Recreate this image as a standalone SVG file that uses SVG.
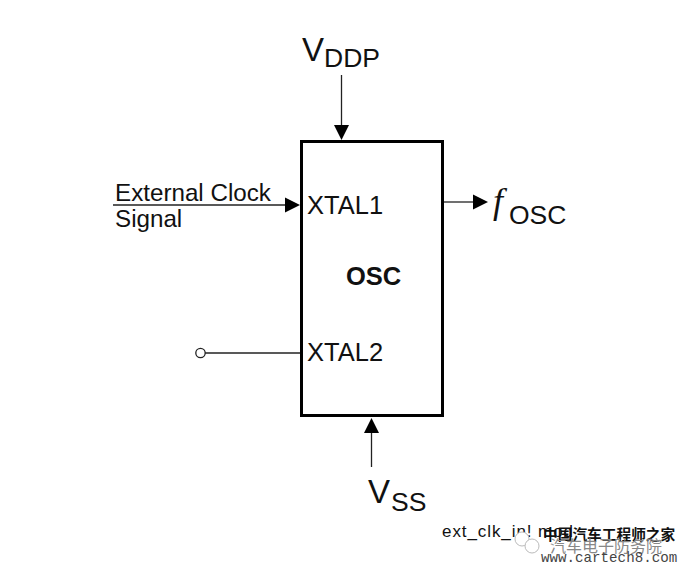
<svg xmlns="http://www.w3.org/2000/svg" width="687" height="572" viewBox="0 0 687 572">
<defs><style>
text{font-family:"Liberation Sans",Arial,sans-serif;fill:#111}
.l{font-size:25.500px}.s{font-size:24.200px}.b{font-size:33px}.c{font-size:26.500px}
.w{stroke:#222;stroke-width:1.3;fill:none}
.a{fill:#000}
</style></defs>
<rect width="687" height="572" fill="#fff"/>
<g id="connectors">
<path class="w" d="M341.500 75V127"/><path class="a" d="M334 125H349L341.500 140Z"/>
<path class="w" d="M113 205H286"/><path class="a" d="M285 197.500L300 205L285 212.500Z"/>
<path class="w" d="M443 202H475"/><path class="a" d="M473 194.500L488 202L473 209.500Z"/>
<path class="w" d="M205 353H301"/><circle cx="200.500" cy="353" r="4.700" fill="#fff" stroke="#222" stroke-width="1.300"/>
<path class="w" d="M371.500 467V431"/><path class="a" d="M364 433L371.500 418L379 433Z"/>
</g>
<g id="osc">
<rect x="301.500" y="141.500" width="141" height="274" fill="#fff" stroke="#000" stroke-width="3"/>
<text class="l" x="307" y="214">XTAL1</text>
<text class="l" x="307" y="361">XTAL2</text>
<text class="l" x="346" y="285" font-weight="bold">OSC</text>
</g>
<g id="vddp"><text class="b" x="302" y="61">V</text><text class="c" x="324" y="67">DDP</text></g>
<g id="clock"><text class="s" x="115" y="201">External Clock</text><text class="s" x="115" y="227">Signal</text></g>
<g id="fosc"><text x="493" y="213" font-size="36" font-style="italic" style="font-family:'Liberation Serif',serif">f</text><text class="c" x="509" y="224">OSC</text></g>
<g id="vss"><text class="b" x="368" y="503">V</text><text class="c" x="391" y="511">SS</text></g>
<g id="caption">
<text x="442" y="537" font-size="17" textLength="131">ext_clk_in! mod</text>
<circle cx="522" cy="539" r="7" fill="#fff" stroke="#bbb"/><circle cx="532" cy="546" r="7" fill="#fff" stroke="#bbb"/>
<text x="543" y="540" font-size="14.700" font-weight="bold" style="font-family:'Noto Sans CJK SC',sans-serif">中国汽车工程师之家</text>
<text x="550" y="552" font-size="16" style="font-family:'Noto Sans CJK SC',sans-serif;fill:#888">汽车电子防务院</text>
<text x="541" y="562" font-size="14.200" style="font-family:'Liberation Mono',monospace;fill:#444">www.cartech8.com</text>
</g>
</svg>
